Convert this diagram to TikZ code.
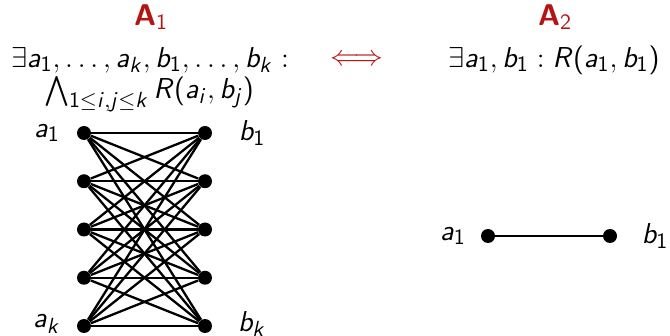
\documentclass[tikz,border=0pt]{standalone}
\usepackage{amsmath}
\usepackage{amssymb}
\renewcommand{\familydefault}{\sfdefault}
\usepackage{tikz}
% sans serif letters and digits in math
\DeclareSymbolFont{sfit}{OT1}{cmss}{m}{sl}
\DeclareSymbolFont{sfup}{OT1}{cmss}{m}{n}
\DeclareMathSymbol{a}{\mathalpha}{sfit}{`a}
\DeclareMathSymbol{b}{\mathalpha}{sfit}{`b}
\DeclareMathSymbol{i}{\mathalpha}{sfit}{`i}
\DeclareMathSymbol{j}{\mathalpha}{sfit}{`j}
\DeclareMathSymbol{k}{\mathalpha}{sfit}{`k}
\DeclareMathSymbol{R}{\mathalpha}{sfit}{`R}
\DeclareMathSymbol{1}{\mathalpha}{sfup}{`1}
\DeclareMathSymbol{2}{\mathalpha}{sfup}{`2}
\DeclareMathSymbol{(}{\mathopen}{sfup}{`(}
\DeclareMathSymbol{)}{\mathclose}{sfup}{`)}
\definecolor{slidered}{RGB}{180,20,20}
\tikzset{vertex/.style={circle, fill, inner sep=0pt, minimum size=7pt},
  edge/.style={line width=1.15pt}}

\begin{document}
\begin{tikzpicture}[x=0.5pt, y=-0.5pt, font=\fontsize{15}{18}\selectfont]
\useasboundingbox (0,0) rectangle (670,336);
% headings and formulas
\node[text=slidered] (name1) at (151,17) {\textbf{A}$_1$};
\node[text=slidered] (name2) at (555,17) {\textbf{A}$_2$};
\node (form1) at (150,60) {$\exists a_1,\dots,a_k,b_1,\dots,b_k :$};
\node (form2) at (149,94) {$\bigwedge_{1\leq i,j\leq k} R(a_i,b_j)$};
\node[text=slidered] (equiv) at (357,60) {$\Longleftrightarrow$};
\node (form3) at (554,60) {$\exists a_1,b_1 : R(a_1,b_1)$};
% complete bipartite graph
\foreach \i in {1,...,5}{
  \node[vertex] (a\i) at (84,84.75+48.25*\i) {};
  \node[vertex] (b\i) at (205,84.75+48.25*\i) {};
}
\foreach \i in {1,...,5}
  \foreach \j in {1,...,5}
    \draw[edge] (a\i) -- (b\j);
\node (la1) at (47,133) {$a_1$};
\node (lak) at (47,324) {$a_k$};
\node (lb1) at (252,133) {$b_1$};
\node (lbk) at (252,324) {$b_k$};
% single edge
\node[vertex] (c1) at (488,236) {};
\node[vertex] (d1) at (610,236) {};
\draw[edge] (c1) -- (d1);
\node (lc1) at (453,236) {$a_1$};
\node (ld1) at (655,236) {$b_1$};
\end{tikzpicture}
\end{document}
